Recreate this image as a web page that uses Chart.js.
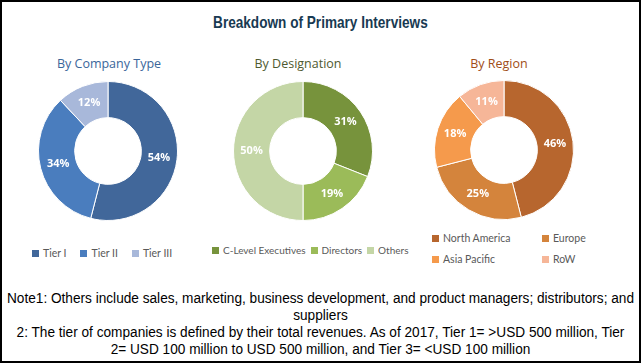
<!DOCTYPE html>
<html>
<head>
<meta charset="utf-8">
<script src="https://cdn.jsdelivr.net/npm/chart.js@4.4.1/dist/chart.umd.min.js"></script>
<style>
body{margin:0;background:#fff;}
#frame{position:relative;width:641px;height:363px;border:2px solid #000;box-sizing:border-box;overflow:hidden;font-family:"Lato",sans-serif;}
#title{position:absolute;left:0;width:637px;top:11px;text-align:center;font-family:"Liberation Sans",sans-serif;font-weight:bold;font-size:17px;color:#183a52;transform:scaleX(0.8);transform-origin:318px 0;white-space:nowrap;}
.sub{position:absolute;top:53px;width:200px;text-align:center;font-family:"Open Sans",sans-serif;font-size:12.5px;}
.box{position:absolute;width:140px;height:140px;}
.legend{position:absolute;font-size:10.5px;color:#595959;display:flex;white-space:nowrap;}
.legend span.sw{display:inline-block;width:7px;height:7px;margin-right:4px;vertical-align:middle;position:relative;top:-1px;}
.legend .it{margin-right:14px;}
#leg2{font-size:10px;}
#leg2 .it{margin-right:5px;}
#leg3{display:grid;grid-template-columns:110px 60px;row-gap:9px;}
#notes{position:absolute;left:-150px;width:937px;top:287px;text-align:center;font-family:"Liberation Sans",sans-serif;font-size:15.5px;line-height:17px;color:#000;transform:scaleX(0.88);transform-origin:50% 0;white-space:nowrap;}
</style>
</head>
<body>
<div id="frame">
<div id="title">Breakdown of Primary Interviews</div>
<div class="sub" style="left:7px;color:#3a669a">By Company Type</div>
<div class="sub" style="left:196px;color:#4e5a30">By Designation</div>
<div class="sub" style="left:397px;color:#a04d17">By Region</div>
<div class="box" style="left:36px;top:79px"><canvas id="c1"></canvas></div>
<div class="box" style="left:231px;top:79px"><canvas id="c2"></canvas></div>
<div class="box" style="left:432px;top:78px"><canvas id="c3"></canvas></div>
<div class="legend" id="leg1" style="left:30px;top:245px"></div>
<div class="legend" id="leg2" style="left:210px;top:242px"></div>
<div class="legend" id="leg3" style="left:430px;top:230px"></div>
<div id="notes">Note1: Others include sales, marketing, business development, and product managers; distributors; and<br>suppliers<br>2: The tier of companies is defined by their total revenues. As of 2017, Tier 1= &gt;USD 500 million, Tier<br>2= USD 100 million to USD 500 million, and Tier 3= &lt;USD 100 million</div>
</div>
<script>
// data
const companyLabels = ["Tier I", "Tier II", "Tier III"];
const companyValues = [54, 34, 12];
const companyColors = ["#41679a", "#4a7dbe", "#a8b8da"];

const designationLabels = ["C-Level Executives", "Directors", "Others"];
const designationValues = [31, 19, 50];
const designationColors = ["#77933c", "#9bbb59", "#c4d6a6"];

const regionLabels = ["North America", "Europe", "Asia Pacific", "RoW"];
const regionValues = [46, 25, 18, 11];
const regionColors = ["#b7662e", "#d4843c", "#f59a4c", "#f6b698"];

const pctLabels = {
  id: "pctLabels",
  afterDatasetsDraw(chart) {
    const c = chart.ctx;
    const meta = chart.getDatasetMeta(0);
    const vals = chart.data.datasets[0].data;
    c.save();
    c.fillStyle = "#fff";
    c.font = "bold 11px 'Open Sans'";
    c.textAlign = "center";
    c.textBaseline = "middle";
    meta.data.forEach((arc, i) => {
      const p = arc.getCenterPoint();
      c.fillText(vals[i] + "%", p.x, p.y);
    });
    c.restore();
  }
};

function donut(id, labels, values, colors, legId) {
  const chart = new Chart(document.getElementById(id), {
    type: "doughnut",
    data: {
      labels: labels,
      datasets: [{
        data: values,
        backgroundColor: colors,
        borderColor: "#fff",
        borderWidth: 1
      }]
    },
    options: {
      responsive: true,
      maintainAspectRatio: false,
      animation: false,
      cutout: "48%",
      layout: {padding: 0},
      plugins: {
        legend: {display: false},
        tooltip: {enabled: false}
      }
    },
    plugins: [pctLabels]
  });
  const leg = document.getElementById(legId);
  labels.forEach((l, i) => {
    const it = document.createElement("div");
    it.className = "it";
    it.innerHTML = '<span class="sw" style="background:' + colors[i] + '"></span>' + l;
    leg.appendChild(it);
  });
  return chart;
}

donut("c1", companyLabels, companyValues, companyColors, "leg1");
donut("c2", designationLabels, designationValues, designationColors, "leg2");
donut("c3", regionLabels, regionValues, regionColors, "leg3");
</script>
</body>
</html>
